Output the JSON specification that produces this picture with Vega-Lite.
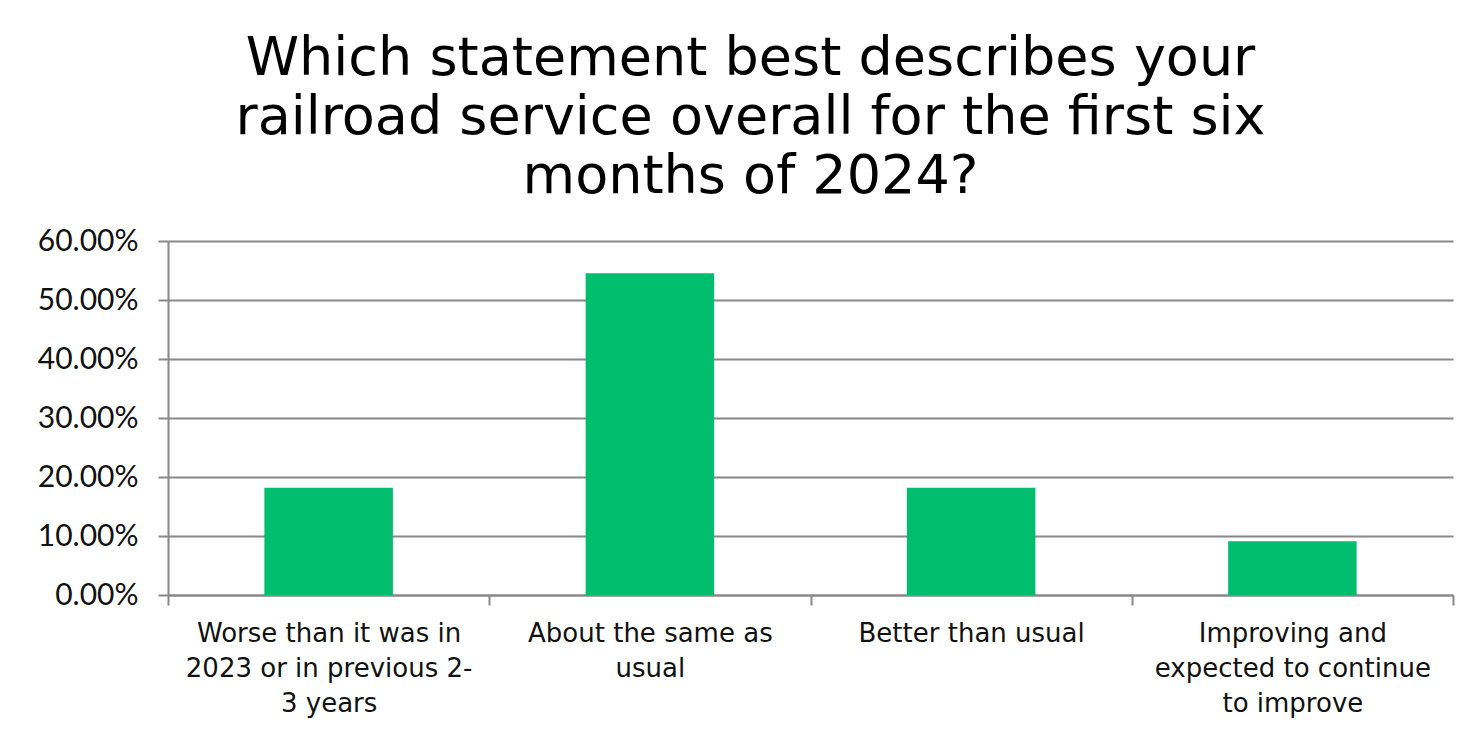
{
  "$schema": "https://vega.github.io/schema/vega-lite/v6.json",
  "width": 1285,
  "height": 354,
  "autosize": {"type": "none"},
  "padding": {"left": 168, "top": 241, "right": 26, "bottom": 136},
  "background": "white",
  "title": {
    "text": ["Which statement best describes your", "railroad service overall for the first six", "months of 2024?"],
    "font": "DejaVu Sans",
    "fontSize": 54,
    "fontWeight": "normal",
    "color": "black",
    "lineHeight": 59,
    "anchor": "middle",
    "dx": -60,
    "offset": 22
  },
  "data": {
    "values": [
      {"category": "Worse than it was in 2023 or in previous 2-3 years", "share": 0.1818},
      {"category": "About the same as usual", "share": 0.5455},
      {"category": "Better than usual", "share": 0.1818},
      {"category": "Improving and expected to continue to improve", "share": 0.0909}
    ]
  },
  "mark": {"type": "bar", "color": "#00BE6E", "width": {"band": 0.4}},
  "encoding": {
    "x": {
      "field": "category",
      "type": "nominal",
      "sort": null,
      "title": null,
      "scale": {"paddingInner": 0, "paddingOuter": 0},
      "axis": {
        "labelAngle": 0,
        "labelFont": "DejaVu Sans",
        "labelFontSize": 26,
        "labelColor": "#111111",
        "labelLineHeight": 35,
        "labelLimit": 400,
        "labelPadding": 15,
        "labelBaseline": "top",
        "tickSize": 10,
        "tickWidth": 2,
        "tickColor": "#888888",
        "tickBand": "extent",
        "domainColor": "#888888",
        "domainWidth": 2,
        "labelExpr": "datum.value == 'Worse than it was in 2023 or in previous 2-3 years' ? ['Worse than it was in', '2023 or in previous 2-', '3 years'] : datum.value == 'About the same as usual' ? ['About the same as', 'usual'] : datum.value == 'Improving and expected to continue to improve' ? ['Improving and', 'expected to continue', 'to improve'] : datum.value"
      }
    },
    "y": {
      "field": "share",
      "type": "quantitative",
      "title": null,
      "scale": {"domain": [0, 0.6]},
      "axis": {
        "format": ".2%",
        "values": [0, 0.1, 0.2, 0.3, 0.4, 0.5, 0.6],
        "labelFont": "Lato",
        "labelFontSize": 30,
        "labelColor": "#111111",
        "labelPadding": 20,
        "tickSize": 10,
        "tickWidth": 2,
        "tickColor": "#888888",
        "domainColor": "#888888",
        "domainWidth": 2,
        "grid": true,
        "gridColor": "#888888",
        "gridWidth": 2
      }
    }
  },
  "config": {"view": {"stroke": null}}
}
